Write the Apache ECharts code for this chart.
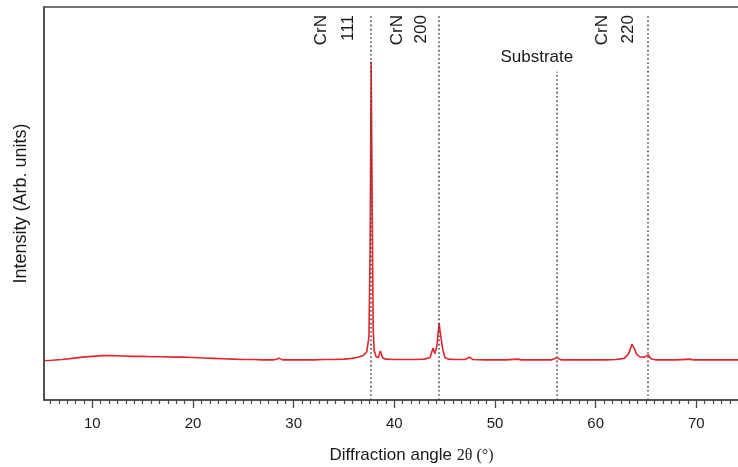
<!DOCTYPE html>
<html>
<head>
<meta charset="utf-8">
<script src="https://cdn.jsdelivr.net/npm/echarts@6/dist/echarts.min.js"></script>
<style>
  html, body { margin: 0; padding: 0; background: #fff; }
  #chart { width: 738px; height: 467px; }
</style>
</head>
<body>
<div id="chart"></div>
<script>
// XRD scan of the CrN coating: diffraction angle 2θ (°) vs. intensity (arb. units)
const angle = [
  5.2, 6.0, 7.0, 8.0, 9.0, 10.0, 11.0, 12.0, 13.0, 14.0, 15.0, 16.0, 17.0, 18.0, 19.0,
  20.0, 21.0, 22.0, 23.0, 24.0, 25.0, 26.0, 27.0, 28.0, 28.6, 28.9, 30.0, 31.0, 32.0,
  33.0, 34.0, 35.0, 35.8, 36.4, 36.9, 37.25, 37.48, 37.6, 37.7, 37.8, 37.9, 38.0, 38.2,
  38.42, 38.62, 38.82, 39.1, 40.0, 41.0, 42.0, 43.0, 43.55, 43.84, 44.02, 44.22, 44.45,
  44.58, 44.68, 44.82, 45.02, 45.35, 46.0, 47.0, 47.48, 47.8, 49.0, 50.0, 51.0, 52.3,
  52.6, 54.0, 55.6, 56.18, 56.55, 58.0, 60.0, 61.0, 62.0, 62.85, 63.28, 63.6, 63.82,
  64.08, 64.38, 64.85, 65.22, 65.48, 66.0, 68.0, 69.35, 69.75, 72.0, 74.0, 80.0
];
const intensity = [
  10.0, 10.1, 10.3, 10.6, 10.9, 11.1, 11.3, 11.3, 11.2, 11.1, 11.1, 11.0, 11.0, 10.9, 10.9,
  10.8, 10.7, 10.6, 10.5, 10.4, 10.3, 10.3, 10.2, 10.2, 10.6, 10.2, 10.2, 10.2, 10.2,
  10.3, 10.3, 10.4, 10.6, 10.9, 11.3, 12.2, 16.0, 40.0, 86.1, 50.0, 18.0, 12.5, 11.0,
  10.8, 12.5, 10.8, 10.4, 10.3, 10.3, 10.3, 10.4, 10.8, 13.2, 11.8, 13.6, 19.6,
  16.8, 16.4, 12.8, 10.8, 10.4, 10.3, 10.3, 10.9, 10.3, 10.2, 10.2, 10.2, 10.4,
  10.2, 10.2, 10.2, 10.8, 10.2, 10.2, 10.2, 10.2, 10.3, 10.6, 11.8, 14.2, 13.2,
  11.6, 11.0, 10.9, 11.5, 10.5, 10.2, 10.2, 10.4, 10.2, 10.2, 10.2, 10.2
];

// Reference reflections marked with dotted lines
const reflectionNames = ['CrN\n111', 'CrN\n200', 'Substrate', 'CrN\n220'];
const reflectionAngles = [37.7, 44.38, 56.14, 65.18];

// Axis range and ticks (major every 10°, twelve minor divisions between majors)
const xMin = 5.2;
const xMax = 80;
const xTickLabels = [10, 20, 30, 40, 50, 60, 70];
const minorStep = 10 / 12;
const xMinorTicks = [];
for (let k = Math.ceil(xMin / minorStep - 1e-6); k * minorStep <= xMax + 1e-6; k++) {
  const v = +(k * minorStep).toFixed(4);
  if (Math.abs(v / 10 - Math.round(v / 10)) > 1e-3) xMinorTicks.push(v);
}

const sans = 'Liberation Sans, Arial, sans-serif';
const serif = 'Liberation Serif, Times New Roman, serif';
const ink = '#1a1a1a';
const axisGrey = '#4a4a4a';

const chart = echarts.init(document.getElementById('chart'), null, { renderer: 'canvas' });

const dotted = { color: axisGrey, width: 1.6, type: [1.6, 2.6], cap: 'butt' };

// per-line label styling (vertical CrN labels sit left of their line, Substrate above)
const labelStyles = [
  { position: 'insideEndTop', distance: [1, 9], lineHeight: 27 },
  { position: 'insideEndTop', distance: [1, 5], lineHeight: 24 },
  { position: 'end', distance: 5, padding: [0, 40, 0, 0], lineHeight: 20 },
  { position: 'insideEndTop', distance: [1, 6], lineHeight: 26 }
];
const lineTops = [98.2, 98.2, 83.5, 98.2];

const markLineData = reflectionAngles.map((a, i) => {
  const s = labelStyles[i];
  return [
    {
      coord: [a, 0],
      lineStyle: dotted,
      label: {
        show: true,
        formatter: reflectionNames[i],
        position: s.position,
        distance: s.distance,
        padding: s.padding || 0,
        lineHeight: s.lineHeight,
        fontFamily: sans,
        fontSize: 17,
        color: ink
      }
    },
    { coord: [a, lineTops[i]] }
  ];
});

const option = {
  animation: false,
  backgroundColor: '#fff',
  grid: {
    left: 44,
    right: -59,
    top: 7,
    bottom: 67,
    show: true,
    borderColor: axisGrey,
    borderWidth: 1.6,
    outerBoundsMode: 'none',
    containLabel: false
  },
  xAxis: [
    {
      type: 'value',
      min: xMin,
      max: xMax,
      axisLine: { show: true, onZero: false, lineStyle: { color: axisGrey, width: 1.6 } },
      axisTick: {
        show: true, inside: false, length: 8,
        customValues: xTickLabels,
        lineStyle: { color: axisGrey, width: 1.3 }
      },
      splitLine: { show: false },
      axisLabel: {
        margin: 16,
        fontSize: 15,
        fontFamily: sans,
        color: ink,
        customValues: xTickLabels
      },
      name: 'Diffraction angle {s|2θ (°)}',
      nameLocation: 'middle',
      nameGap: 47,
      nameTextStyle: {
        fontSize: 17,
        fontFamily: sans,
        color: ink,
        padding: [0, 18, 0, 0],
        rich: {
          s: { fontSize: 16, fontFamily: serif, color: ink }
        }
      }
    },
    {
      // minor ticks along the same bottom axis
      type: 'value',
      position: 'bottom',
      min: xMin,
      max: xMax,
      axisLine: { show: false, onZero: false },
      axisTick: {
        show: true, inside: false, length: 4,
        customValues: xMinorTicks,
        lineStyle: { color: axisGrey, width: 1.2 }
      },
      axisLabel: { show: false },
      splitLine: { show: false }
    }
  ],
  yAxis: {
    type: 'value',
    min: 0,
    max: 100,
    axisLine: { show: true, lineStyle: { color: axisGrey, width: 1.6 } },
    axisTick: { show: false },
    axisLabel: { show: false },
    splitLine: { show: false },
    name: 'Intensity (Arb. units)',
    nameLocation: 'middle',
    nameGap: 14,
    nameTextStyle: { fontSize: 18, fontFamily: sans, color: ink }
  },
  series: [
    {
      type: 'line',
      xAxisIndex: 0,
      data: angle.map((a, i) => [a, intensity[i]]),
      showSymbol: false,
      symbol: 'none',
      lineStyle: { color: '#e3262c', width: 1.6 },
      z: 3,
      markLine: {
        silent: true,
        symbol: ['none', 'none'],
        animation: false,
        z: 4,
        data: markLineData
      }
    }
  ]
};

chart.setOption(option);
</script>
</body>
</html>
